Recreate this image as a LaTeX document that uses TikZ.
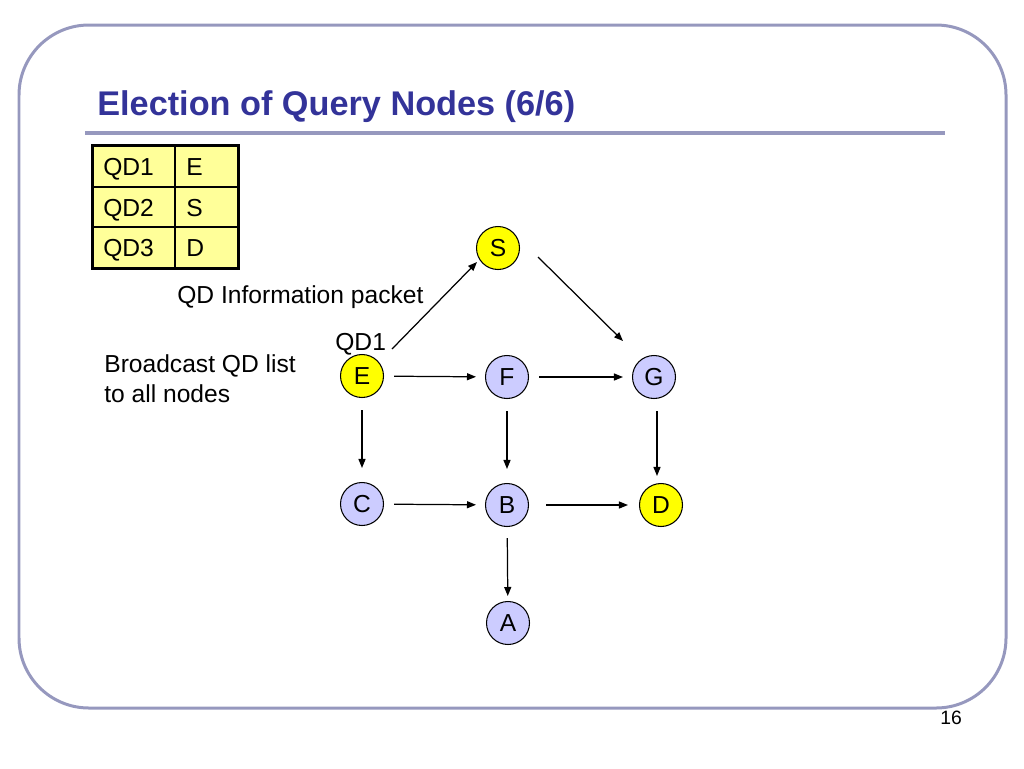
\documentclass[tikz,border=0pt]{standalone}
\usepackage{fontspec}
\setmainfont{Liberation Sans}
\usepackage{xcolor}
\usetikzlibrary{arrows.meta, positioning, calc}
\definecolor{framegray}{RGB}{150,152,190}
\definecolor{titleblue}{RGB}{51,51,153}
\definecolor{qdyellow}{RGB}{255,255,0}
\definecolor{tableyellow}{RGB}{255,255,153}
\definecolor{peerblue}{RGB}{204,204,255}
\tikzstyle{plain} = [inner sep=0pt, font=\fontsize{14pt}{17pt}\selectfont]
\tikzstyle{peer} = [circle, draw, line width=0.6pt, fill=peerblue, minimum size=0.86cm, inner sep=0pt, font=\fontsize{14pt}{16pt}\selectfont]
\tikzstyle{qd} = [peer, fill=qdyellow]
\tikzstyle{arrow} = [draw, line width=0.7pt, -{Triangle[length=0.18cm,width=0.14cm]}, shorten <=0.2cm, shorten >=0.18cm]

\begin{document}
\begin{tikzpicture}[x=0.02cm, y=-0.02cm]
    \useasboundingbox (0,0) rectangle (1024,768);
    % slide frame and title
    \draw [framegray, line width=0.06cm, rounded corners=1.4cm] (19,25) rectangle (1006,708);
    \node (title) [anchor=base west, inner sep=0pt, text=titleblue, font=\fontsize{19.5pt}{22pt}\selectfont\bfseries] at (97,115) {Election of Query Nodes (6/6)};
    \draw [framegray, line width=0.08cm] (85,133) -- (945,133);

    % QD table
    \draw [fill=tableyellow, line width=0.06cm] (92,145) rectangle (238,268);
    \draw [line width=0.8pt] (92,187) -- (238,187) (92,227) -- (238,227) (175,145) -- (175,268);
    \node (qd1) [plain, anchor=base west] at (103,175) {QD1};
    \node (qd2) [plain, anchor=base west] at (103,216) {QD2};
    \node (qd3) [plain, anchor=base west] at (103,256) {QD3};
    \node (qd1v) [plain, anchor=base west] at (186,175) {E};
    \node (qd2v) [plain, anchor=base west] at (186,216) {S};
    \node (qd3v) [plain, anchor=base west] at (186,256) {D};

    % network
    \node (S) [qd] at (498,248) {S};
    \node (E) [qd] at (362,376) {E};
    \node (F) [peer] at (507,377) {F};
    \node (G) [peer] at (654,377) {G};
    \node (C) [peer] at (362,504) {C};
    \node (B) [peer] at (507,505) {B};
    \node (D) [qd] at (661,505) {D};
    \node (A) [peer] at (508,623) {A};

    \draw [arrow, shorten <=0pt, shorten >=0pt] ($(E)+(30,-27)$) -- ($(S)+(-21,14)$);
    \draw [arrow, shorten <=0pt, shorten >=0pt] ($(S)+(40,9)$) -- ($(G)+(-31,-36)$);
    \draw [arrow] (E) -- (F);
    \draw [arrow] (F) -- (G);
    \draw [arrow, shorten <=0.24cm, shorten >=0.28cm] (E) -- (C);
    \draw [arrow, shorten <=0.24cm, shorten >=0.28cm] (F) -- (B);
    \draw [arrow, shorten <=0pt, shorten >=0pt] ($(G.south)+(3,12)$) -- ($(D.north)+(-4,-7)$);
    \draw [arrow] (C) -- (B);
    \draw [arrow, shorten <=0.34cm, shorten >=0.22cm] (B) -- (D);
    \draw [arrow, shorten <=0.22cm, shorten >=0.1cm] (B) -- (A);

    % labels
    \node (packet) [plain, anchor=base west] at (177,303) {QD Information packet};
    \node (qdtag) [plain, anchor=base west] at (335,350) {QD1};
    \node (bcast) [plain, anchor=base west, align=left] at (104,402) {Broadcast QD list\\to all nodes};
    \node (pagenum) [anchor=base west, inner sep=0pt, font=\fontsize{11pt}{13pt}\selectfont] at (940,724) {16};
\end{tikzpicture}
\end{document}
